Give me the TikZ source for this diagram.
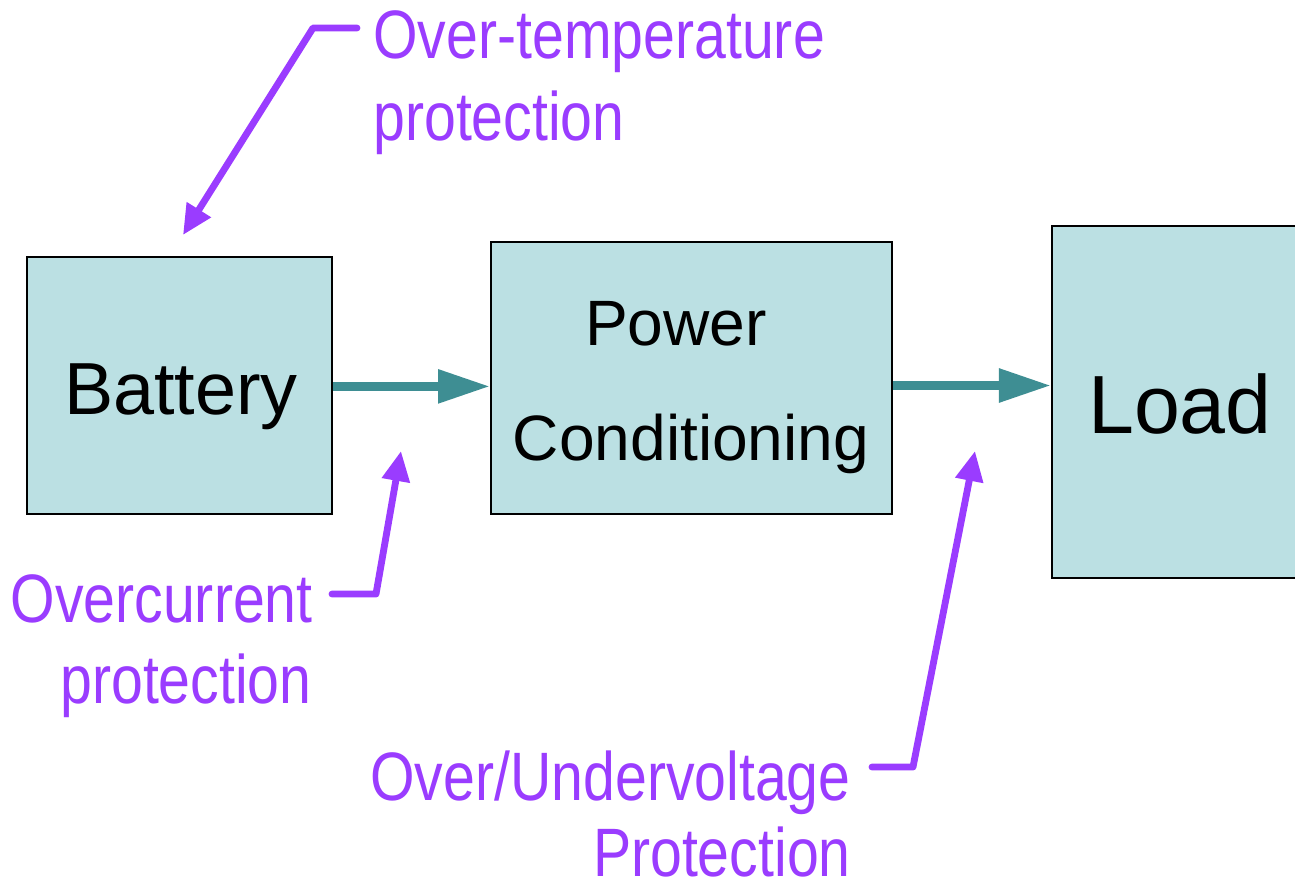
\documentclass[tikz,border=0pt]{standalone}
\usepackage{fontspec}
\setmainfont{Liberation Sans}
\newfontfamily\narrowfont[FakeStretch=0.835]{Liberation Sans}
\usetikzlibrary{arrows.meta}
\definecolor{boxfill}{HTML}{BBE0E3}
\definecolor{flowteal}{HTML}{3E8E93}
\definecolor{protpurple}{HTML}{9A3CFF}
\tikzset{
  blockbox/.style={draw=black, line width=1.2pt, fill=boxfill, inner sep=0pt},
  flowarrow/.style={draw=flowteal, line width=5pt, -{Triangle[length=1.04cm,width=0.64cm]}},
  protarrow/.style={draw=protpurple, line width=3.9pt, line cap=round, line join=round,
     -{Triangle[length=0.6cm,width=0.54cm]}},
  protlabel/.style={text=protpurple, inner sep=0pt, font=\narrowfont\fontsize{39}{46}\selectfont},
  blocklabel/.style={text=black, inner sep=0pt}
}
\begin{document}
\begin{tikzpicture}[x=0.02cm,y=-0.02cm]
\useasboundingbox (0,0) rectangle (1295,883);
% boxes
\node[blockbox, minimum width=6.1cm, minimum height=5.14cm] (bat) at (179.5,385.5) {};
\node[blockbox, minimum width=8.02cm, minimum height=5.44cm] (pc) at (691.5,378) {};
\node[blockbox, minimum width=5.2cm, minimum height=7.04cm] (load) at (1182,402) {};
% box texts
\node[blocklabel, anchor=base, font=\fontsize{42}{48}\selectfont] (battxt) at (181,414) {Battery};
\node[blocklabel, anchor=base, font=\fontsize{36.5}{42}\selectfont] (pctxt1) at (676,345) {Power};
\node[blocklabel, anchor=base, font=\fontsize{36.5}{42}\selectfont] (pctxt2) at (691,460) {Conditioning};
\node[blocklabel, anchor=base, font=\fontsize{47}{54}\selectfont] (loadtxt) at (1180,433) {Load};
% flow arrows
\draw[flowarrow] ([yshift=-0.5pt]bat.east) -- ([yshift=-0.5pt]bat.east -| pc.west);
\draw[flowarrow] (pc.east |- bat.east) -- (bat.east -| load.west);
% protection labels
\node[protlabel, anchor=base west] (ot1) at (373,58) {Over-temperature};
\node[protlabel, anchor=base west] (ot2) at (373,140) {protection};
\node[protlabel, anchor=base east] (oc1) at (313,622) {Overcurrent};
\node[protlabel, anchor=base east] (oc2) at (312,703) {protection};
\node[protlabel, anchor=base east] (ov1) at (851,800) {Over/Undervoltage};
\node[protlabel, anchor=base east] (ov2) at (851,876) {Protection};
% protection pointers
\coordinate (otstart) at (357,28);
\coordinate (otbend) at (313,28);
\coordinate (ottip) at (183,235);
\coordinate (ocstart) at (332,594);
\coordinate (ocbend) at (376,594);
\coordinate (octip) at (401,451);
\coordinate (ovstart) at (872,767);
\coordinate (ovbend) at (913,767);
\coordinate (ovtip) at (975,451);
\draw[protarrow] (otstart) -- (otbend) -- (ottip);
\draw[protarrow] (ocstart) -- (ocbend) -- (octip);
\draw[protarrow] (ovstart) -- (ovbend) -- (ovtip);
\end{tikzpicture}
\end{document}
